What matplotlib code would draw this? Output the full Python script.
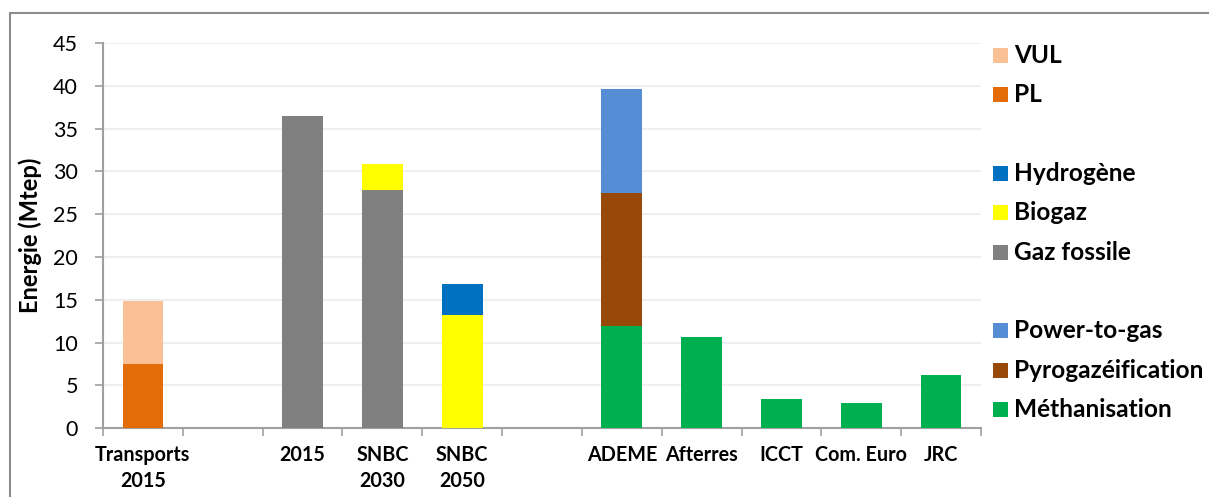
import matplotlib.pyplot as plt
from matplotlib.patches import Rectangle
import numpy as np

# Données (Mtep)
categories = ["Transports\n2015", "", "2015", "SNBC\n2030", "SNBC\n2050", "",
              "ADEME", "Afterres", "ICCT", "Com. Euro", "JRC"]
pl = [7.5, 0, 0, 0, 0, 0, 0, 0, 0, 0, 0]
vul = [7.4, 0, 0, 0, 0, 0, 0, 0, 0, 0, 0]
gaz_fossile = [0, 0, 36.5, 27.8, 0, 0, 0, 0, 0, 0, 0]
biogaz = [0, 0, 0, 3.1, 13.2, 0, 0, 0, 0, 0, 0]
hydrogene = [0, 0, 0, 0, 3.7, 0, 0, 0, 0, 0, 0]
methanisation = [0, 0, 0, 0, 0, 0, 12.0, 10.7, 3.4, 3.0, 6.2]
pyrogazeification = [0, 0, 0, 0, 0, 0, 15.5, 0, 0, 0, 0]
power_to_gas = [0, 0, 0, 0, 0, 0, 12.1, 0, 0, 0, 0]

series = [
    ("PL", pl, "#E36C09"),
    ("VUL", vul, "#F9C195"),
    ("Gaz fossile", gaz_fossile, "#808080"),
    ("Biogaz", biogaz, "#FFFF00"),
    ("Hydrogène", hydrogene, "#0070C0"),
    ("Méthanisation", methanisation, "#00B050"),
    ("Pyrogazéification", pyrogazeification, "#984807"),
    ("Power-to-gas", power_to_gas, "#558ED5"),
]
legend_order = ["VUL", "PL", None, "Hydrogène", "Biogaz", "Gaz fossile", None,
                "Power-to-gas", "Pyrogazéification", "Méthanisation"]

plt.rcParams['font.family'] = ['Lato', 'DejaVu Sans']

W, H = 1209, 497
fig = plt.figure(figsize=(W / 100, H / 100), dpi=100)
ax = fig.add_axes([103 / W, 1 - 428.3 / H, (981 - 103) / W, (428.3 - 43) / H])

x = np.arange(len(categories))
bottom = np.zeros(len(categories))
for name, vals, col in series:
    vals = np.array(vals, dtype=float)
    ax.bar(x, vals, 0.51, bottom=bottom, color=col, linewidth=0, zorder=3)
    bottom += vals

ax.set_xlim(-0.5, len(categories) - 0.5)
ax.set_ylim(0, 45)
ax.set_yticks(np.arange(0, 46, 5))
ax.tick_params(axis='y', labelsize=15.5, length=6, width=1.2, color="#A0A0A0", pad=12)
ax.grid(axis='y', color="#EFEFEF", linewidth=1.5, zorder=0)

# graduations entre catégories, étiquettes au centre
ax.set_xticks(np.arange(-0.5, len(categories), 1))
ax.set_xticklabels([])
ax.set_xticks(x, minor=True)
ax.set_xticklabels(categories, minor=True, fontsize=14.2, fontweight='bold',
                   linespacing=1.35)
ax.tick_params(axis='x', which='major', length=6, width=1.2, color="#A0A0A0")
ax.tick_params(axis='x', which='minor', length=0, pad=12)

for s in ['top', 'right']:
    ax.spines[s].set_visible(False)
for s in ['left', 'bottom']:
    ax.spines[s].set_color("#A0A0A0")
    ax.spines[s].set_linewidth(1.5)

ax.set_ylabel("Energie (Mtep)", fontsize=17, fontweight='bold', labelpad=8)

# légende manuelle
y0, dy = 55.5, 39.33
colors = {name: col for name, _, col in series}
for i, name in enumerate(legend_order):
    if name is None:
        continue
    yc = y0 + i * dy
    fig.add_artist(Rectangle((993 / W, 1 - (yc + 7.5) / H), 15 / W, 15 / H,
                             transform=fig.transFigure, color=colors[name], lw=0))
    fig.text(1014 / W, 1 - yc / H, name, fontsize=17.6, fontweight='bold',
             va='center', ha='left')

# cadre
fig.add_artist(Rectangle((10 / W, -0.05), 1.1, 1.05 - 13 / H, transform=fig.transFigure,
                         fill=False, edgecolor="#8C8C8C", lw=1.5))

fig.savefig("out.png", dpi=100)
